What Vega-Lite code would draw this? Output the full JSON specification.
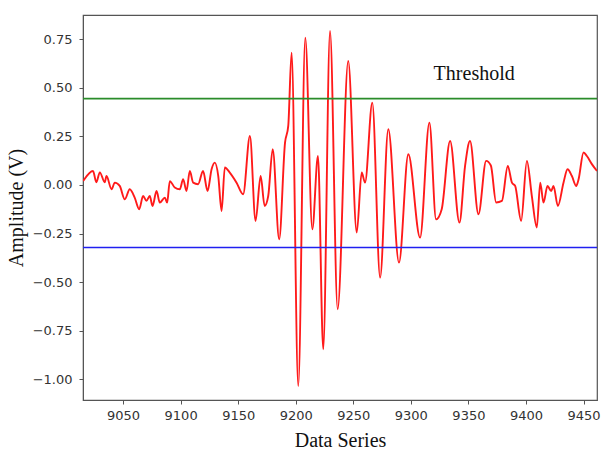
{
  "$schema": "https://vega.github.io/schema/vega-lite/v6.json",
  "width": 514,
  "height": 385,
  "autosize": {"type": "none"},
  "padding": {"left": 83, "top": 15, "right": 5, "bottom": 55},
  "background": "white",
  "config": {
    "view": {"stroke": "#555555", "strokeWidth": 1.2},
    "axis": {
      "grid": false,
      "domainColor": "#555555",
      "tickColor": "#555555",
      "labelFont": "DejaVu Sans",
      "labelFontSize": 13,
      "labelColor": "#333333",
      "titleFont": "Liberation Serif",
      "titleFontSize": 20,
      "titleFontWeight": "normal",
      "titleColor": "#111111",
      "tickSize": 4
    }
  },
  "datasets": {
    "signal": [
      {"x": 9015.3, "y": 0.02}, {"x": 9023.9, "y": 0.072}, {"x": 9026.8, "y": 0.014}, {"x": 9029.8, "y": 0.065},
      {"x": 9034.1, "y": 0.014}, {"x": 9035.6, "y": 0.046}, {"x": 9040.0, "y": -0.022}, {"x": 9042.8, "y": 0.012},
      {"x": 9047.1, "y": -0.005}, {"x": 9051.5, "y": -0.074}, {"x": 9055.8, "y": -0.022}, {"x": 9060.1, "y": -0.065},
      {"x": 9064.0, "y": -0.125}, {"x": 9067.4, "y": -0.057}, {"x": 9070.3, "y": -0.082}, {"x": 9073.2, "y": -0.057},
      {"x": 9075.6, "y": -0.108}, {"x": 9079.1, "y": -0.031}, {"x": 9081.9, "y": -0.091}, {"x": 9086.3, "y": -0.065},
      {"x": 9088.3, "y": -0.091}, {"x": 9090.6, "y": 0.02}, {"x": 9094.9, "y": -0.013}, {"x": 9099.3, "y": -0.022},
      {"x": 9102.2, "y": 0.03}, {"x": 9105.1, "y": -0.031}, {"x": 9108.0, "y": 0.072}, {"x": 9110.9, "y": 0.012},
      {"x": 9115.2, "y": 0.004}, {"x": 9119.5, "y": 0.072}, {"x": 9123.4, "y": -0.031}, {"x": 9126.9, "y": 0.081},
      {"x": 9129.7, "y": 0.115}, {"x": 9132.7, "y": 0.046}, {"x": 9135.6, "y": -0.134}, {"x": 9138.4, "y": 0.09},
      {"x": 9142.7, "y": 0.064}, {"x": 9148.6, "y": 0.012}, {"x": 9154.3, "y": -0.048}, {"x": 9160.2, "y": 0.252},
      {"x": 9165.1, "y": -0.185}, {"x": 9169.5, "y": 0.046}, {"x": 9173.0, "y": -0.108}, {"x": 9176.1, "y": -0.057},
      {"x": 9180.0, "y": 0.184}, {"x": 9185.6, "y": -0.28}, {"x": 9190.7, "y": 0.218}, {"x": 9193.5, "y": 0.304},
      {"x": 9196.4, "y": 0.681}, {"x": 9202.2, "y": -1.035}, {"x": 9208.3, "y": 0.758}, {"x": 9214.4, "y": -0.228},
      {"x": 9219.3, "y": 0.149}, {"x": 9223.9, "y": -0.846}, {"x": 9229.8, "y": 0.793}, {"x": 9236.4, "y": -0.64},
      {"x": 9245.6, "y": 0.638}, {"x": 9253.0, "y": -0.245}, {"x": 9257.3, "y": 0.064}, {"x": 9260.2, "y": 0.012},
      {"x": 9266.5, "y": 0.424}, {"x": 9273.3, "y": -0.477}, {"x": 9280.4, "y": 0.287}, {"x": 9289.7, "y": -0.4},
      {"x": 9297.8, "y": 0.158}, {"x": 9308.0, "y": -0.271}, {"x": 9316.1, "y": 0.321}, {"x": 9321.9, "y": -0.177},
      {"x": 9326.8, "y": -0.125}, {"x": 9334.1, "y": 0.226}, {"x": 9342.2, "y": -0.194}, {"x": 9347.1, "y": 0.098},
      {"x": 9351.4, "y": 0.226}, {"x": 9358.7, "y": -0.151}, {"x": 9365.4, "y": 0.124}, {"x": 9369.5, "y": 0.1},
      {"x": 9374.1, "y": -0.09}, {"x": 9379.1, "y": -0.082}, {"x": 9384.2, "y": 0.098}, {"x": 9387.8, "y": 0.012},
      {"x": 9390.6, "y": -0.005}, {"x": 9395.8, "y": -0.185}, {"x": 9400.8, "y": 0.124}, {"x": 9405.1, "y": -0.057},
      {"x": 9409.4, "y": -0.219}, {"x": 9412.4, "y": 0.012}, {"x": 9415.2, "y": -0.091}, {"x": 9418.7, "y": -0.005},
      {"x": 9421.9, "y": -0.031}, {"x": 9423.9, "y": -0.005}, {"x": 9427.7, "y": -0.108}, {"x": 9432.6, "y": 0.012},
      {"x": 9436.1, "y": 0.081}, {"x": 9439.9, "y": 0.046}, {"x": 9443.6, "y": -0.005}, {"x": 9445.7, "y": 0.029},
      {"x": 9450.0, "y": 0.167}, {"x": 9452.9, "y": 0.149}, {"x": 9457.4, "y": 0.106}, {"x": 9461.7, "y": 0.072}
    ],
    "upper": [{"y": 0.445}],
    "lower": [{"y": -0.322}],
    "label": [{"x": 9355, "y": 0.57, "text": "Threshold"}]
  },
  "layer": [
    {
      "data": {"name": "signal"},
      "mark": {"type": "line", "color": "#ff1a1a", "strokeWidth": 1.9, "interpolate": "monotone", "clip": true},
      "encoding": {
        "x": {
          "field": "x", "type": "quantitative",
          "scale": {"domain": [9015.2, 9461.7], "nice": false, "zero": false},
          "axis": {"title": "Data Series", "values": [9050, 9100, 9150, 9200, 9250, 9300, 9350, 9400, 9450], "format": "d", "labelPadding": 5, "titlePadding": 8}
        },
        "y": {
          "field": "y", "type": "quantitative",
          "scale": {"domain": [-1.107, 0.875], "nice": false, "zero": false},
          "axis": {"title": "Amplitude (V)", "values": [-1, -0.75, -0.5, -0.25, 0, 0.25, 0.5, 0.75], "format": ".2f", "labelPadding": 7, "titlePadding": 6}
        }
      }
    },
    {
      "data": {"name": "upper"},
      "mark": {"type": "rule", "color": "#2a8c2a", "strokeWidth": 1.7},
      "encoding": {"y": {"field": "y", "type": "quantitative"}}
    },
    {
      "data": {"name": "lower"},
      "mark": {"type": "rule", "color": "#2020f0", "strokeWidth": 1.7},
      "encoding": {"y": {"field": "y", "type": "quantitative"}}
    },
    {
      "data": {"name": "label"},
      "mark": {"type": "text", "font": "Liberation Serif", "fontSize": 20, "color": "#111111", "align": "center", "baseline": "middle"},
      "encoding": {
        "x": {"field": "x", "type": "quantitative"},
        "y": {"field": "y", "type": "quantitative"},
        "text": {"field": "text"}
      }
    }
  ]
}
